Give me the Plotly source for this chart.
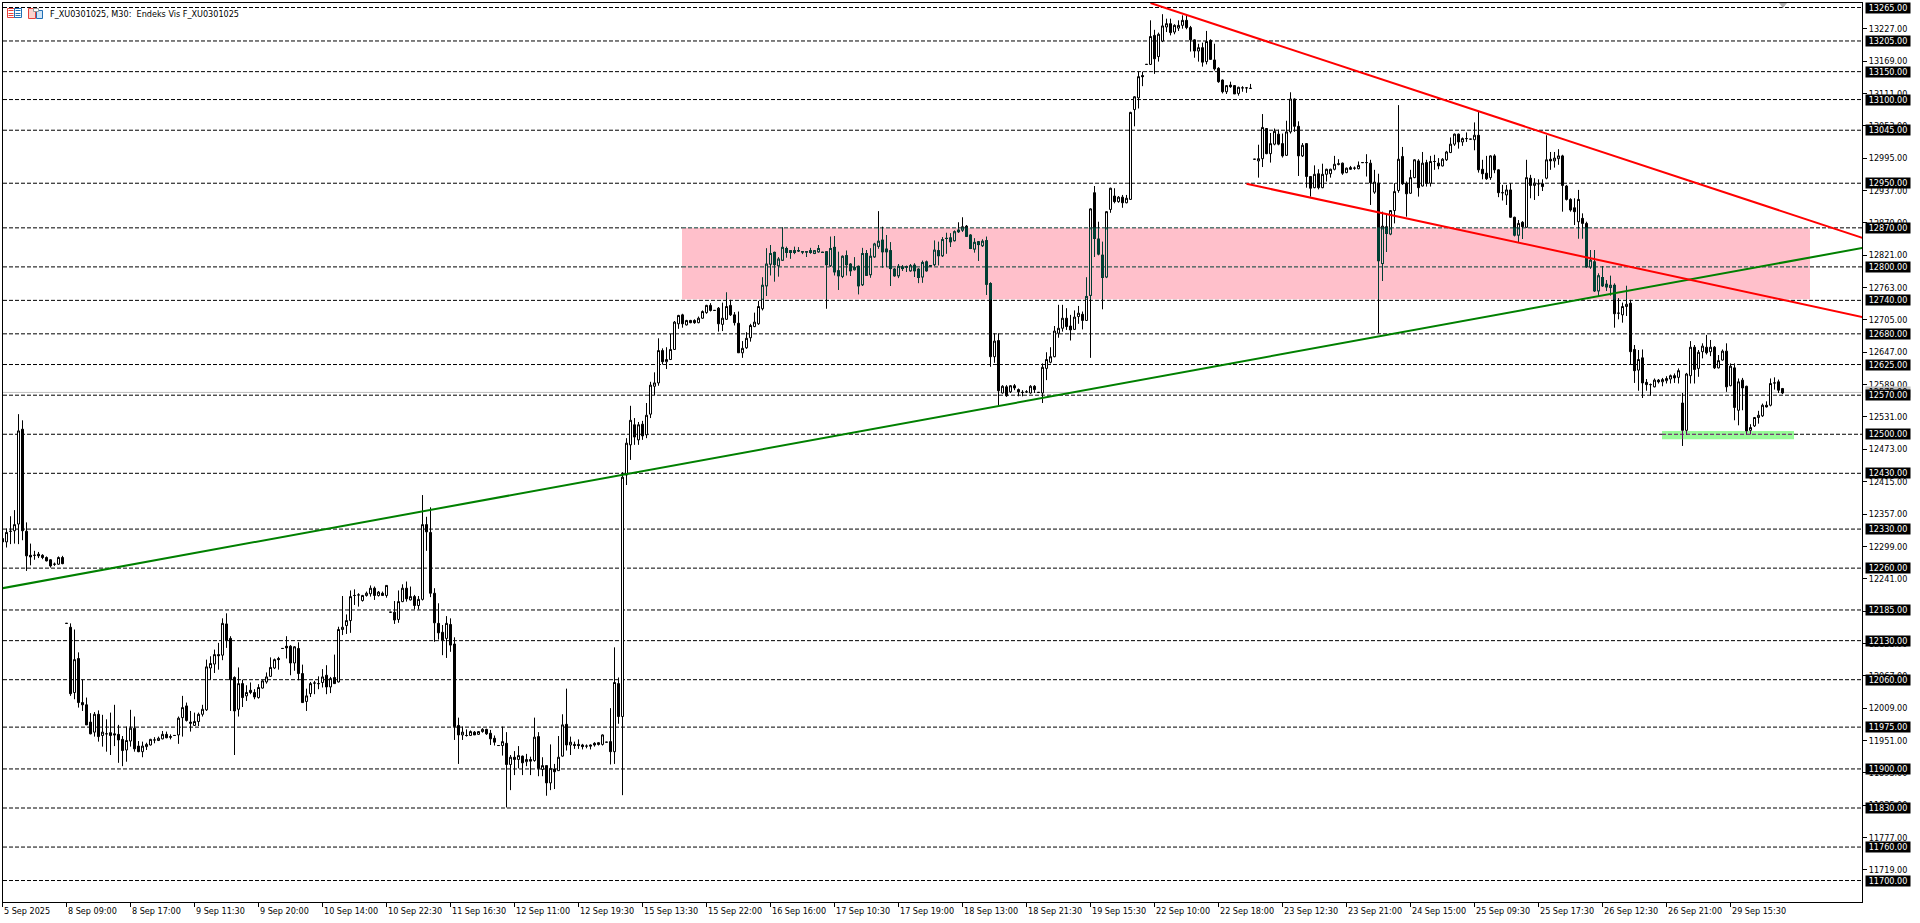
import numpy as np
import plotly.graph_objects as go

# 30 minute candles of F_XU0301025, one entry per bar
opens = [
    12313,12307,12326,12327,12339,12509,12326,12283,12283,12285,
    12283,12279,12275,12267,12267,12279,12161,12154,12037,12098,
    12019,12015,11984,11966,11998,11960,11963,11965,11963,11962,
    11953,11934,11950,11973,11941,11931,11940,11943,11952,11951,
    11954,11962,11958,11960,11961,11992,12013,11984,11978,11985,
    11998,12006,12081,12088,12105,12104,12160,12134,12064,12007,
    12053,12031,12041,12037,12028,12045,12056,12066,12081,12098,
    12116,12120,12120,12090,12116,12071,12021,12035,12054,12053,
    12055,12068,12047,12064,12056,12150,12157,12166,12211,12212,
    12202,12211,12214,12224,12211,12215,12211,12181,12181,12168,
    12200,12224,12203,12209,12193,12204,12338,12324,12215,12161,
    12145,12134,12159,12124,11978,11961,11960,11960,11966,11962,
    11967,11971,11964,11955,11942,11942,11946,11908,11921,11917,
    11923,11913,11917,11915,11958,11899,11906,11875,11900,11897,
    11923,11980,11943,11944,11944,11943,11941,11943,11946,11947,
    11944,11948,11949,11931,12053,11994,12427,12481,12517,12490,
    12518,12499,12536,12586,12592,12650,12630,12634,12652,12698,
    12714,12696,12704,12704,12700,12708,12718,12731,12722,12726,
    12697,12706,12731,12714,12699,12646,12655,12673,12693,12698,
    12725,12766,12805,12826,12802,12812,12833,12829,12829,12829,
    12827,12827,12829,12824,12827,12826,12827,12802,12835,12793,
    12783,12820,12805,12795,12801,12768,12824,12786,12818,12837,
    12848,12832,12829,12796,12784,12800,12800,12793,12803,12796,
    12782,12809,12802,12804,12829,12820,12851,12852,12847,12866,
    12866,12873,12857,12832,12845,12838,12847,12770,12639,12668,
    12574,12585,12576,12587,12580,12575,12576,12574,12586,12575,
    12574,12618,12629,12639,12681,12690,12708,12694,12688,12711,
    12715,12704,12749,12933,12850,12821,12782,12903,12927,12917,
    12925,12915,12921,13082,13103,13143,13163,13163,13215,13177,
    13205,13230,13236,13221,13228,13233,13242,13229,13207,13187,
    13193,13168,13206,13171,13156,13135,13114,13126,13125,13111,
    13121,13121,13120,12993,12990,12994,13048,13003,13020,13038,
    13021,13000,13042,13101,13052,12999,13021,12962,12942,12967,
    12942,12966,12967,12975,12985,12986,12969,12978,12977,12976,
    12987,12987,12986,12934,12950,12806,12872,12859,12901,12937,
    12998,12950,12932,12960,12990,12945,12987,12950,12989,12986,
    12981,12992,13005,13020,13038,13024,13030,13029,13028,13036,
    12975,12968,12960,12999,12974,12933,12929,12938,12889,12857,
    12880,12871,12959,12946,12949,12949,12959,12993,12990,12994,
    12999,12945,12921,12906,12881,12887,12878,12800,12809,12757,
    12781,12769,12763,12767,12717,12714,12729,12735,12652,12615,
    12637,12593,12589,12585,12597,12594,12596,12599,12605,12602,
    12556,12507,12605,12656,12618,12648,12656,12648,12656,12619,
    12633,12649,12587,12619,12543,12597,12586,12507,12515,12530,
    12533,12552,12552,12592,12594,12582,
]
highs = [
    12322,12331,12353,12364,12536,12525,12342,12304,12291,12289,
    12285,12281,12276,12270,12281,12282,12161,12161,12150,12109,
    12060,12028,12000,12002,12005,11997,11989,12001,12015,11979,
    11959,11976,12006,11994,11950,11949,11947,11954,11957,11958,
    11968,11967,11962,11960,11994,12031,12019,12004,12001,12001,
    12015,12096,12102,12114,12126,12170,12179,12138,12066,12082,
    12060,12050,12055,12043,12052,12059,12073,12100,12098,12101,
    12116,12138,12122,12120,12127,12087,12044,12056,12058,12066,
    12079,12086,12065,12105,12155,12210,12177,12220,12222,12215,
    12212,12218,12229,12227,12219,12218,12229,12181,12201,12220,
    12231,12236,12227,12212,12210,12391,12352,12369,12224,12197,
    12158,12174,12170,12136,11992,11976,11971,11969,11968,11968,
    11973,11972,11970,11960,11942,11976,11966,11925,11932,11941,
    11924,11927,11922,11992,11966,11921,11906,11944,11909,11959,
    11998,12044,11958,11949,11953,11945,11944,11944,11948,11948,
    11962,11948,12009,12118,12064,12432,12493,12551,12529,12522,
    12524,12556,12594,12611,12672,12654,12656,12680,12703,12714,
    12716,12705,12705,12706,12711,12722,12732,12735,12722,12728,
    12736,12754,12741,12719,12720,12667,12683,12698,12718,12739,
    12781,12833,12839,12827,12817,12871,12836,12830,12836,12835,
    12828,12828,12834,12830,12839,12826,12828,12854,12855,12827,
    12820,12829,12806,12817,12802,12834,12830,12833,12843,12900,
    12872,12857,12844,12797,12805,12803,12802,12805,12806,12797,
    12811,12811,12802,12847,12845,12853,12861,12860,12865,12880,
    12889,12875,12858,12851,12846,12849,12854,12772,12681,12681,
    12588,12588,12588,12590,12582,12579,12579,12588,12588,12575,
    12627,12647,12656,12694,12732,12732,12726,12714,12722,12730,
    12720,12781,12905,12945,12881,12845,12900,12942,12941,12927,
    12929,12929,13078,13106,13150,13150,13163,13242,13225,13220,
    13253,13245,13245,13235,13242,13251,13253,13232,13208,13200,
    13202,13223,13208,13200,13158,13136,13126,13132,13126,13123,
    13124,13122,13128,12993,13019,13074,13049,13040,13048,13046,
    13039,13062,13113,13102,13061,13022,13022,12963,12982,12975,
    12985,12976,12976,12999,12993,12987,12978,12981,12980,12989,
    12987,13002,12992,12974,12967,12899,12893,12902,12950,13090,
    13015,12953,12974,12993,12993,13006,12992,12999,13001,12995,
    12995,13008,13032,13039,13039,13032,13041,13029,13059,13078,
    12992,12999,13000,13002,12975,12947,12947,12950,12890,12884,
    12882,12992,12965,12959,12957,12957,13036,13006,13006,13011,
    13001,12947,12923,12923,12938,12896,12881,12830,12830,12788,
    12801,12776,12784,12770,12744,12736,12766,12741,12660,12651,
    12652,12599,12591,12600,12599,12601,12604,12607,12609,12618,
    12574,12610,12667,12660,12651,12663,12678,12669,12658,12642,
    12652,12663,12627,12627,12600,12601,12587,12518,12531,12542,
    12555,12559,12600,12602,12598,12583,
]
lows = [
    12304,12297,12303,12304,12303,12310,12255,12265,12275,12278,
    12276,12272,12261,12264,12266,12267,12161,12031,12025,12010,
    12004,11979,11962,11958,11949,11940,11931,11925,11941,11911,
    11905,11913,11940,11931,11930,11921,11934,11942,11946,11950,
    11953,11955,11953,11960,11945,11958,11985,11967,11977,11977,
    11994,12004,12060,12072,12078,12095,12117,12004,11925,11994,
    12011,12022,12034,12025,12026,12044,12053,12065,12079,12078,
    12116,12098,12068,12076,12059,12019,12004,12029,12034,12043,
    12046,12034,12036,12053,12055,12140,12142,12144,12194,12191,
    12200,12209,12209,12203,12209,12210,12207,12181,12160,12162,
    12199,12200,12202,12186,12186,12202,12291,12208,12128,12132,
    12104,12099,12110,11952,11909,11952,11958,11959,11961,11961,
    11965,11961,11943,11942,11942,11924,11831,11862,11889,11901,
    11889,11905,11889,11913,11887,11887,11852,11862,11864,11897,
    11922,11933,11925,11936,11936,11935,11937,11935,11940,11942,
    11942,11948,11908,11909,11981,11853,12409,12454,12481,12481,
    12490,12493,12529,12570,12587,12625,12617,12633,12651,12689,
    12691,12695,12699,12698,12699,12707,12716,12720,12722,12684,
    12685,12705,12712,12695,12646,12637,12653,12666,12692,12696,
    12722,12748,12785,12774,12783,12811,12817,12815,12823,12827,
    12823,12818,12824,12823,12826,12826,12725,12800,12785,12759,
    12780,12785,12784,12794,12751,12766,12784,12781,12817,12833,
    12799,12800,12766,12783,12780,12793,12791,12792,12782,12771,
    12772,12792,12802,12802,12803,12818,12824,12836,12846,12861,
    12863,12854,12832,12826,12811,12836,12750,12621,12628,12552,
    12573,12567,12574,12579,12568,12568,12574,12573,12574,12575,
    12556,12597,12627,12638,12673,12684,12687,12668,12687,12698,
    12688,12703,12637,12818,12821,12724,12780,12897,12914,12915,
    12906,12914,12920,13052,13084,13124,13163,13162,13146,13168,
    13203,13221,13215,13217,13223,13227,13226,13186,13175,13168,
    13159,13163,13171,13152,13130,13111,13110,13121,13110,13107,
    13114,13112,13119,12993,12960,12979,13002,12987,13018,13018,
    12996,12999,13039,13042,12963,12997,12942,12926,12941,12939,
    12941,12953,12960,12973,12982,12965,12968,12974,12974,12975,
    12987,12962,12911,12931,12681,12775,12827,12857,12878,12933,
    12947,12890,12931,12959,12926,12944,12944,12944,12974,12975,
    12980,12990,13004,13017,13012,13017,13024,13029,13009,12969,
    12957,12956,12956,12968,12925,12919,12911,12888,12855,12845,
    12850,12870,12923,12920,12927,12936,12957,12974,12978,12983,
    12899,12919,12899,12875,12851,12851,12799,12797,12755,12748,
    12764,12757,12749,12691,12706,12700,12712,12625,12592,12578,
    12565,12578,12569,12584,12591,12586,12591,12591,12592,12591,
    12479,12499,12591,12591,12603,12636,12643,12640,12617,12618,
    12632,12576,12586,12525,12516,12543,12500,12500,12513,12519,
    12531,12548,12550,12580,12574,12572,
]
closes = [
    12307,12324,12326,12338,12506,12327,12282,12280,12283,12282,
    12279,12273,12264,12267,12279,12268,12161,12035,12096,12019,
    12015,11979,11963,11998,11958,11966,11963,11960,11961,11952,
    11933,11951,11973,11936,11931,11941,11944,11953,11952,11955,
    11962,11956,11957,11960,11991,12010,11987,11982,11985,11998,
    12007,12083,12089,12105,12103,12161,12131,12060,12004,12053,
    12028,12037,12037,12029,12046,12058,12065,12082,12096,12096,
    12116,12117,12090,12119,12071,12019,12031,12053,12054,12053,
    12065,12047,12062,12053,12150,12154,12166,12209,12211,12212,
    12211,12215,12224,12211,12217,12211,12229,12181,12167,12200,
    12224,12205,12209,12193,12204,12338,12325,12215,12162,12144,
    12131,12161,12122,11976,11961,11966,11960,11967,11961,11967,
    11971,11963,11954,11948,11942,11949,11908,11921,11917,11924,
    11911,11917,11914,11957,11901,11906,11875,11901,11895,11921,
    11979,11943,11948,11942,11942,11940,11941,11941,11943,11944,
    11961,11948,11931,12055,11994,12423,12484,12525,12495,12517,
    12497,12534,12588,12592,12650,12630,12634,12652,12701,12713,
    12698,12704,12700,12700,12708,12720,12731,12722,12722,12698,
    12708,12729,12714,12700,12646,12654,12672,12695,12701,12729,
    12767,12805,12824,12804,12814,12835,12826,12826,12826,12829,
    12827,12827,12826,12829,12833,12826,12804,12833,12791,12784,
    12819,12804,12793,12799,12766,12824,12785,12819,12841,12846,
    12827,12827,12797,12784,12801,12797,12800,12802,12793,12781,
    12808,12793,12802,12830,12820,12849,12851,12845,12863,12863,
    12872,12855,12833,12844,12840,12846,12769,12639,12667,12578,
    12586,12569,12587,12583,12576,12575,12576,12586,12580,12575,
    12620,12634,12639,12685,12690,12708,12693,12687,12710,12717,
    12704,12747,12904,12851,12823,12781,12899,12941,12917,12925,
    12915,12923,13077,13105,13141,13141,13163,13213,13173,13217,
    13232,13236,13220,13233,13233,13242,13229,13207,13187,13193,
    13167,13204,13172,13155,13132,13114,13125,13123,13110,13122,
    13121,13121,13120,12993,12994,13050,13003,13021,13043,13020,
    12999,13042,13101,13052,12999,13018,12962,12941,12966,12942,
    12966,12975,12975,12984,12984,12968,12977,12975,12977,12982,
    12987,12987,12951,12952,12811,12873,12860,12901,12935,12993,
    12949,12931,12960,12992,12942,12986,12950,12989,12989,12981,
    12993,13006,13020,13038,13024,13030,13030,13029,13036,12974,
    12967,12958,12999,12974,12933,12933,12938,12889,12857,12878,
    12872,12960,12946,12950,12949,12944,12992,12990,12995,12999,
    12946,12921,12902,12899,12921,12878,12800,12812,12757,12784,
    12766,12764,12767,12716,12717,12729,12733,12648,12614,12634,
    12592,12589,12589,12597,12594,12598,12600,12605,12601,12614,
    12507,12608,12656,12616,12647,12658,12646,12656,12619,12632,
    12649,12585,12622,12548,12594,12583,12506,12512,12530,12534,
    12552,12549,12591,12592,12579,12574,
]

# one label every 16 bars
time_labels = [
    "5 Sep 2025", "8 Sep 09:00", "8 Sep 17:00", "9 Sep 11:30", "9 Sep 20:00",
    "10 Sep 14:00", "10 Sep 22:30", "11 Sep 16:30", "12 Sep 11:00", "12 Sep 19:30",
    "15 Sep 13:30", "15 Sep 22:00", "16 Sep 16:00", "17 Sep 10:30", "17 Sep 19:00",
    "18 Sep 13:00", "18 Sep 21:30", "19 Sep 15:30", "22 Sep 10:00", "22 Sep 18:00",
    "23 Sep 12:30", "23 Sep 21:00", "24 Sep 15:00", "25 Sep 09:30", "25 Sep 17:30",
    "26 Sep 12:30", "26 Sep 21:00", "29 Sep 15:30",
]
price_ticks = [
    13227, 13169, 13111, 13053, 12995, 12937, 12879, 12821, 12763, 12705, 12647,
    12589, 12531, 12473, 12415, 12357, 12299, 12241, 12183, 12125, 12067, 12009,
    11951, 11893, 11835, 11777, 11719,
]
levels = [
    13265, 13205, 13150, 13100, 13045, 12950, 12870, 12800, 12740, 12680, 12625,
    12570, 12500, 12430, 12330, 12260, 12185, 12130, 12060, 11975, 11900, 11830,
    11760, 11700,
]
last_price = 12575

green_trend_x = [0, 465]
green_trend_y = [12224, 12834]
red_upper_x = [287, 465]
red_upper_y = [13273, 12852]
red_lower_x = [311, 465]
red_lower_y = [12949, 12710]

# zones: first bar, last bar, price bottom, price top
pink_zone = (169.875, 451.875, 12742, 12870)
green_zone = (414.875, 447.875, 12491, 12506)

FONT = "DejaVu Sans Condensed, Liberation Sans, Arial, sans-serif"
FONT_SIZE = 9
PINK = "#FFC0CB"
PINK_INV = "#003F34"
LIME = "#98FB98"
LIME_INV = "#670467"

bars = np.arange(len(closes))
o, h, l, c = map(np.array, (opens, highs, lows, closes))


def tinted(zone, edge, fill):
    # MT5 xors objects with the chart, so marks inside a zone change colour
    x0, x1, lo, hi = zone
    tops, bottoms = np.maximum(o, c), np.minimum(o, c)
    inside = (bars >= x0) & (bars <= x1)
    wick_x, wick_y = [], []
    for i in bars[inside]:
        for a, b in ((tops[i], h[i]), (l[i], bottoms[i])):
            a, b = np.clip([a, b], lo, hi)
            if b > a:
                wick_x += [i, i, None]
                wick_y += [a, b, None]
    keep = inside & (tops > lo) & (bottoms < hi)
    co, cc = np.clip(o[keep], lo, hi), np.clip(c[keep], lo, hi)
    return [
        go.Scatter(x=wick_x, y=wick_y, mode="lines", line=dict(color=edge, width=1),
                   hoverinfo="skip", showlegend=False),
        go.Candlestick(x=bars[keep], open=co, high=np.maximum(co, cc), low=np.minimum(co, cc), close=cc,
                       increasing=dict(line=dict(color=edge, width=1), fillcolor=fill),
                       decreasing=dict(line=dict(color=edge, width=1), fillcolor=edge),
                       whiskerwidth=0, showlegend=False),
    ]


fig = go.Figure()
fig.add_trace(go.Candlestick(
    x=bars, open=opens, high=highs, low=lows, close=closes,
    increasing=dict(line=dict(color="#000000", width=1), fillcolor="#FFFFFF"),
    decreasing=dict(line=dict(color="#000000", width=1), fillcolor="#000000"),
    whiskerwidth=0, showlegend=False,
))
fig.add_traces(tinted(pink_zone, PINK_INV, PINK))
fig.add_traces(tinted(green_zone, LIME_INV, LIME))

for tx, ty, col in ((green_trend_x, green_trend_y, "#008000"),
                    (red_upper_x, red_upper_y, "#FF0000"),
                    (red_lower_x, red_lower_y, "#FF0000")):
    fig.add_trace(go.Scatter(x=tx, y=ty, mode="lines", line=dict(color=col, width=2),
                             hoverinfo="skip", showlegend=False))

shapes = []
for zone, col in ((pink_zone, PINK), (green_zone, LIME)):
    shapes.append(dict(type="rect", layer="below", x0=zone[0], x1=zone[1], y0=zone[2], y1=zone[3],
                       fillcolor=col, line=dict(width=0)))


def level_line(level, x0, x1, col):
    return dict(type="line", layer="below", x0=x0, x1=x1, y0=level, y1=level,
                line=dict(color=col, width=1, dash="4px,2px"))


X_MIN, X_MAX = 0.125, 464.875
for lv in levels:
    if lv in (12870, 12800):
        cuts = [(X_MIN, pink_zone[0], "#000000"), (pink_zone[0], pink_zone[1], PINK_INV), (pink_zone[1], X_MAX, "#000000")]
    elif lv == 12500:
        cuts = [(X_MIN, green_zone[0], "#000000"), (green_zone[0], green_zone[1], LIME_INV), (green_zone[1], X_MAX, "#000000")]
    else:
        cuts = [(X_MIN, X_MAX, "#000000")]
    shapes += [level_line(lv, *cut) for cut in cuts]
shapes.append(dict(type="line", layer="below", x0=X_MIN, x1=X_MAX, y0=last_price, y1=last_price,
                   line=dict(color="#C0C0C0", width=1)))


def px(x):
    return (x - 3) / 1859


def py(y):
    return (902 - y) / 899


def icon_rect(x0, y0, x1, y1, col, fill="rgba(0,0,0,0)"):
    return dict(type="rect", xref="paper", yref="paper", x0=px(x0), x1=px(x1), y0=py(y1), y1=py(y0),
                line=dict(color=col, width=1), fillcolor=fill, layer="above")


def icon_line(x0, x1, y, col):
    return dict(type="line", xref="paper", yref="paper", x0=px(x0), x1=px(x1), y0=py(y), y1=py(y),
                line=dict(color=col, width=1), layer="above")


# toolbar icons next to the title, the first time tick and the chart shift marker
shapes += [
    icon_rect(7.5, 8.5, 14.5, 17.5, "#E8413A"), icon_rect(14.5, 8.5, 21.5, 17.5, "#1F6FB5"),
    icon_line(8.5, 13.5, 10.5, "#E8413A"), icon_line(8.5, 13.5, 13.5, "#E8413A"), icon_line(8.5, 13.5, 15.5, "#E8413A"),
    icon_line(15.5, 20.5, 10.5, "#1F6FB5"), icon_line(15.5, 20.5, 13.5, "#1F6FB5"), icon_line(15.5, 20.5, 15.5, "#1F6FB5"),
    icon_rect(28.5, 8.5, 35.5, 18.5, "#E8413A", "#FBD3CE"), icon_rect(36.5, 10.5, 42.5, 18.5, "#1F6FB5", "#CFE3F5"),
    icon_rect(33.5, 8.5, 38.5, 11.5, "#9A9A9A", "#FFFFFF"),
    dict(type="line", xref="paper", yref="paper", layer="above", x0=px(2.5), x1=px(2.5), y0=py(902), y1=py(907),
         line=dict(color="#000000", width=1)),
    dict(type="path", xref="paper", yref="paper", layer="above", fillcolor="#B0B0B0", line=dict(width=0),
         path=f"M {px(1779)} {py(3)} L {px(1787)} {py(3)} L {px(1783)} {py(8)} Z"),
]

annotations = [dict(xref="paper", yref="paper", x=px(48), y=py(13.5), xanchor="left", yanchor="middle",
                    text="F_XU0301025, M30:\u00a0 Endeks Vis F_XU0301025", showarrow=False,
                    font=dict(family=FONT, size=FONT_SIZE, color="#000000"))]
for n, label in enumerate(time_labels):
    # the first bar sits just outside the axis range, so its label is pinned to the edge
    annotations.append(dict(xref="x", yref="paper", x=max(n * 16, X_MIN), y=py(911), xanchor="left", yanchor="middle",
                            text=label, showarrow=False, xshift=-1,
                            font=dict(family=FONT, size=FONT_SIZE, color="#000000")))
box_style = dict(xref="paper", x=1, xanchor="left", xshift=3, showarrow=False, width=44, height=10,
                 borderpad=0, align="center")
annotations.append(dict(box_style, yref="y", y=last_price, text="%.2f" % last_price, bgcolor="#C0C0C0",
                        font=dict(family=FONT, size=FONT_SIZE, color="#000000")))
for lv in levels:
    annotations.append(dict(box_style, yref="y", y=lv, text="%.2f" % lv, bgcolor="#000000",
                            font=dict(family=FONT, size=FONT_SIZE, color="#FFFFFF")))

fig.update_layout(
    width=1920, height=923, autosize=False,
    margin=dict(l=3, r=58, t=3, b=21, pad=0),
    paper_bgcolor="#FFFFFF", plot_bgcolor="#FFFFFF",
    boxgap=0.5, boxgroupgap=0,
    showlegend=False, hovermode=False,
    shapes=shapes, annotations=annotations,
    xaxis=dict(range=[X_MIN, X_MAX], rangeslider=dict(visible=False), showgrid=False, zeroline=False,
               showline=True, mirror=True, linecolor="#000000", linewidth=1,
               tickmode="array", tickvals=[n * 16 for n in range(len(time_labels))],
               ticks="outside", ticklen=4, tickcolor="#000000", tickwidth=1, showticklabels=False),
    yaxis=dict(range=[11661.5, 13273.07], side="right", showgrid=False, zeroline=False,
               showline=True, mirror=True, linecolor="#000000", linewidth=1,
               tickmode="array", tickvals=price_ticks, ticktext=["%.2f" % p for p in price_ticks],
               ticks="outside", ticklen=4, tickcolor="#000000", tickwidth=1,
               tickfont=dict(family=FONT, size=FONT_SIZE, color="#000000")),
)

fig.write_html("out.html", config={"displayModeBar": False},
               post_script="document.body.style.margin='0';document.body.style.overflow='hidden';")
